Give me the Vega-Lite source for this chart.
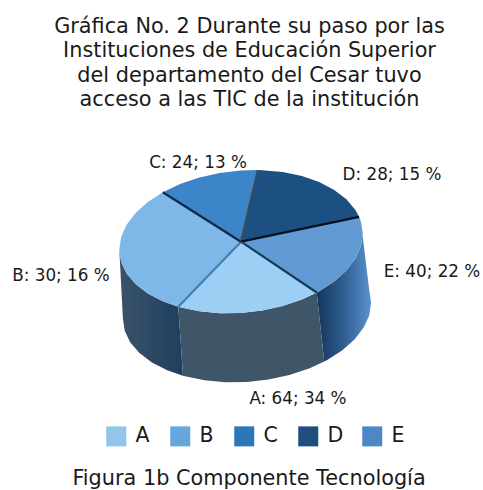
{"$schema":"https://vega.github.io/schema/vega-lite/v6.json","width":483,"height":375,"autosize":{"type":"none"},"padding":{"left":0,"top":115,"right":0,"bottom":0},"background":"white","config":{"view":{"stroke":null}},
"title":{"text":["Gráfica No. 2 Durante su paso por las","Instituciones de Educación Superior","del departamento del Cesar tuvo","acceso a las TIC de la institución"],"font":"DejaVu Sans","fontSize":20.8,"fontWeight":"normal","color":"#1a1a1a","lineHeight":24.5,"anchor":"middle","frame":"group","dx":8,"offset":4},
"datasets":{
"slices":[{"slice":"A","value":64,"percent":34,"label":"A: 64; 34 %","lx":57,"ly":-156.8},{"slice":"B","value":30,"percent":16,"label":"B: 30; 16 %","lx":-180,"ly":-34.3},{"slice":"C","value":24,"percent":13,"label":"C: 24; 13 %","lx":-43,"ly":79},{"slice":"D","value":28,"percent":15,"label":"D: 28; 15 %","lx":151,"ly":66.7},{"slice":"E","value":40,"percent":22,"label":"E: 40; 22 %","lx":191,"ly":-30.3}],
"faces":[
{"part":"side B","i":0,"x":-121.7,"y":-7.9},{"part":"side B","i":1,"x":-119.9,"y":-20.1},{"part":"side B","i":2,"x":-114.4,"y":-31.8},{"part":"side B","i":3,"x":-105.4,"y":-42.4},{"part":"side B","i":4,"x":-93.2,"y":-51.8},{"part":"side B","i":5,"x":-78.2,"y":-59.6},{"part":"side B","i":6,"x":-62.7,"y":-65.1},{"part":"side B","i":7,"x":-58,"y":-134.1},{"part":"side B","i":8,"x":-73.8,"y":-128.6},{"part":"side B","i":9,"x":-89.1,"y":-120.8},{"part":"side B","i":10,"x":-101.5,"y":-111.4},{"part":"side B","i":11,"x":-110.7,"y":-100.8},{"part":"side B","i":12,"x":-116.3,"y":-89.1},{"part":"side B","i":13,"x":-118.1,"y":-76.9},
{"part":"side E","i":0,"x":75.7,"y":-50.8},{"part":"side E","i":1,"x":78.2,"y":-49.5},{"part":"side E","i":2,"x":93.2,"y":-39.7},{"part":"side E","i":3,"x":105.4,"y":-28.8},{"part":"side E","i":4,"x":114.4,"y":-16.9},{"part":"side E","i":5,"x":119.9,"y":-4.6},{"part":"side E","i":6,"x":121.7,"y":7.9},{"part":"side E","i":7,"x":119.9,"y":20.1},{"part":"side E","i":8,"x":128.3,"y":-48.9},{"part":"side E","i":9,"x":130.1,"y":-61.1},{"part":"side E","i":10,"x":128.3,"y":-73.6},{"part":"side E","i":11,"x":122.7,"y":-85.9},{"part":"side E","i":12,"x":113.5,"y":-97.8},{"part":"side E","i":13,"x":101.1,"y":-108.7},{"part":"side E","i":14,"x":85.8,"y":-118.5},{"part":"side E","i":15,"x":83.2,"y":-119.8},
{"part":"side A","i":0,"x":-62.7,"y":-65.1},{"part":"side A","i":1,"x":-60.9,"y":-65.6},{"part":"side A","i":2,"x":-41.6,"y":-69.6},{"part":"side A","i":3,"x":-21.1,"y":-71.5},{"part":"side A","i":4,"x":0,"y":-71.2},{"part":"side A","i":5,"x":21.1,"y":-68.7},{"part":"side A","i":6,"x":41.6,"y":-64.2},{"part":"side A","i":7,"x":60.9,"y":-57.7},{"part":"side A","i":8,"x":75.7,"y":-50.8},{"part":"side A","i":9,"x":83.2,"y":-119.8},{"part":"side A","i":10,"x":68.1,"y":-126.7},{"part":"side A","i":11,"x":48.4,"y":-133.2},{"part":"side A","i":12,"x":27.5,"y":-137.7},{"part":"side A","i":13,"x":6,"y":-140.2},{"part":"side A","i":14,"x":-15.5,"y":-140.5},{"part":"side A","i":15,"x":-36.4,"y":-138.6},{"part":"side A","i":16,"x":-56.1,"y":-134.6},{"part":"side A","i":17,"x":-58,"y":-134.1},
{"part":"top A","i":0,"x":0,"y":0},{"part":"top A","i":1,"x":-62.7,"y":-65.1},{"part":"top A","i":2,"x":-60.9,"y":-65.6},{"part":"top A","i":3,"x":-41.6,"y":-69.6},{"part":"top A","i":4,"x":-21.1,"y":-71.5},{"part":"top A","i":5,"x":0,"y":-71.2},{"part":"top A","i":6,"x":21.1,"y":-68.7},{"part":"top A","i":7,"x":41.6,"y":-64.2},{"part":"top A","i":8,"x":60.9,"y":-57.7},{"part":"top A","i":9,"x":75.7,"y":-50.8},
{"part":"top E","i":0,"x":0,"y":0},{"part":"top E","i":1,"x":75.7,"y":-50.8},{"part":"top E","i":2,"x":78.2,"y":-49.5},{"part":"top E","i":3,"x":93.2,"y":-39.7},{"part":"top E","i":4,"x":105.4,"y":-28.8},{"part":"top E","i":5,"x":114.4,"y":-16.9},{"part":"top E","i":6,"x":119.9,"y":-4.6},{"part":"top E","i":7,"x":121.7,"y":7.9},{"part":"top E","i":8,"x":119.9,"y":20.1},{"part":"top E","i":9,"x":118.1,"y":24.9},
{"part":"top D","i":0,"x":0,"y":0},{"part":"top D","i":1,"x":118.1,"y":24.9},{"part":"top D","i":2,"x":114.4,"y":31.8},{"part":"top D","i":3,"x":105.4,"y":42.4},{"part":"top D","i":4,"x":93.2,"y":51.8},{"part":"top D","i":5,"x":78.2,"y":59.6},{"part":"top D","i":6,"x":60.9,"y":65.6},{"part":"top D","i":7,"x":41.6,"y":69.6},{"part":"top D","i":8,"x":21.1,"y":71.5},{"part":"top D","i":9,"x":16.9,"y":71.6},
{"part":"top C","i":0,"x":0,"y":0},{"part":"top C","i":1,"x":16.9,"y":71.6},{"part":"top C","i":2,"x":0,"y":71.2},{"part":"top C","i":3,"x":-21.1,"y":68.7},{"part":"top C","i":4,"x":-41.6,"y":64.2},{"part":"top C","i":5,"x":-60.9,"y":57.7},{"part":"top C","i":6,"x":-78.2,"y":49.5},
{"part":"top B","i":0,"x":0,"y":0},{"part":"top B","i":1,"x":-78.2,"y":49.5},{"part":"top B","i":2,"x":-93.2,"y":39.7},{"part":"top B","i":3,"x":-105.4,"y":28.8},{"part":"top B","i":4,"x":-114.4,"y":16.9},{"part":"top B","i":5,"x":-119.9,"y":4.6},{"part":"top B","i":6,"x":-121.7,"y":-7.9},{"part":"top B","i":7,"x":-119.9,"y":-20.1},{"part":"top B","i":8,"x":-114.4,"y":-31.8},{"part":"top B","i":9,"x":-105.4,"y":-42.4},{"part":"top B","i":10,"x":-93.2,"y":-51.8},{"part":"top B","i":11,"x":-78.2,"y":-59.6},{"part":"top B","i":12,"x":-62.7,"y":-65.1}
],
"edges":[
{"edge":"A-B","i":0,"x":0,"y":0},{"edge":"A-B","i":1,"x":-62.7,"y":-65.1},
{"edge":"B-C","i":0,"x":0,"y":0},{"edge":"B-C","i":1,"x":-78.2,"y":49.5},
{"edge":"C-D","i":0,"x":0,"y":0},{"edge":"C-D","i":1,"x":16.9,"y":71.6},
{"edge":"D-E","i":0,"x":0,"y":0},{"edge":"D-E","i":1,"x":118.1,"y":24.9},
{"edge":"E-A","i":0,"x":0,"y":0},{"edge":"E-A","i":1,"x":75.7,"y":-50.8}
],
"captions":[{"caption":"Figura 1b Componente Tecnología","cx":8,"cy":-237.3}]
},
"layer":[
{"data":{"name":"slices"},"mark":{"type":"point","filled":true,"size":1,"shape":"square"},"encoding":{"color":{"field":"slice","type":"nominal","scale":{"domain":["A","B","C","D","E"],"range":["#92C5EC","#66A6DC","#2D76B8","#1F4F7F","#4F86C6"]},"legend":{"title":null,"orient":"none","legendX":106,"legendY":311,"direction":"horizontal","columns":5,"symbolType":"square","symbolSize":400,"symbolStrokeWidth":0,"symbolOpacity":1,"labelFont":"DejaVu Sans","labelFontSize":20.5,"labelColor":"#1a1a1a","labelOffset":9,"columnPadding":18,"padding":0,"gridAlign":"all"}}}},
{"data":{"name":"faces"},"transform":[{"filter":"datum.part === 'side B'"}],"mark":{"type":"line","filled":true,"strokeWidth":0,"fill":{"gradient":"linear","x1":0,"x2":1,"y1":0,"y2":0,"stops":[{"offset":0,"color":"#3B5369"},{"offset":1,"color":"#1E3F5F"}]}},"encoding":{"x":{"field":"x","type":"quantitative","scale":{"domain":[-241,242],"nice":false},"axis":null},"y":{"field":"y","type":"quantitative","scale":{"domain":[-248.3,126.7],"nice":false},"axis":null},"order":{"field":"i"}}},
{"data":{"name":"faces"},"transform":[{"filter":"datum.part === 'side E'"}],"mark":{"type":"line","filled":true,"strokeWidth":0,"fill":{"gradient":"linear","x1":0,"x2":1,"y1":0,"y2":0,"stops":[{"offset":0,"color":"#15355A"},{"offset":0.5,"color":"#2F5F92"},{"offset":1,"color":"#5A92CF"}]}},"encoding":{"x":{"field":"x","type":"quantitative","axis":null},"y":{"field":"y","type":"quantitative","axis":null},"order":{"field":"i"}}},
{"data":{"name":"faces"},"transform":[{"filter":"indexof(datum.part,'side') < 0 || datum.part === 'side A'"}],"mark":{"type":"line","filled":true,"strokeWidth":0},"encoding":{"x":{"field":"x","type":"quantitative","axis":null},"y":{"field":"y","type":"quantitative","axis":null},"order":{"field":"i"},"detail":{"field":"part"},"fill":{"field":"part","type":"nominal","legend":null,"scale":{"domain":["side A","top A","top B","top C","top D","top E"],"range":["#3F5668","#9CCFF3","#7DB8E8","#3B85C8","#1C5083","#629BD3"]}}}},
{"data":{"name":"edges"},"mark":{"type":"line","strokeWidth":2.2},"encoding":{"x":{"field":"x","type":"quantitative","axis":null},"y":{"field":"y","type":"quantitative","axis":null},"order":{"field":"i"},"stroke":{"field":"edge","type":"nominal","legend":null,"scale":{"domain":["A-B","B-C","C-D","D-E","E-A"],"range":["#427FB2","#0E2A48","#3A4A5C","#06121F","#173A5E"]}}}},
{"data":{"name":"slices"},"mark":{"type":"text","font":"DejaVu Sans","fontSize":16.8,"color":"#1a1a1a"},"encoding":{"x":{"field":"lx","type":"quantitative","axis":null},"y":{"field":"ly","type":"quantitative","axis":null},"text":{"field":"label"}}},
{"data":{"name":"captions"},"mark":{"type":"text","font":"DejaVu Sans","fontSize":20.8,"color":"#1a1a1a"},"encoding":{"x":{"field":"cx","type":"quantitative","axis":null},"y":{"field":"cy","type":"quantitative","axis":null},"text":{"field":"caption"}}}
]}
